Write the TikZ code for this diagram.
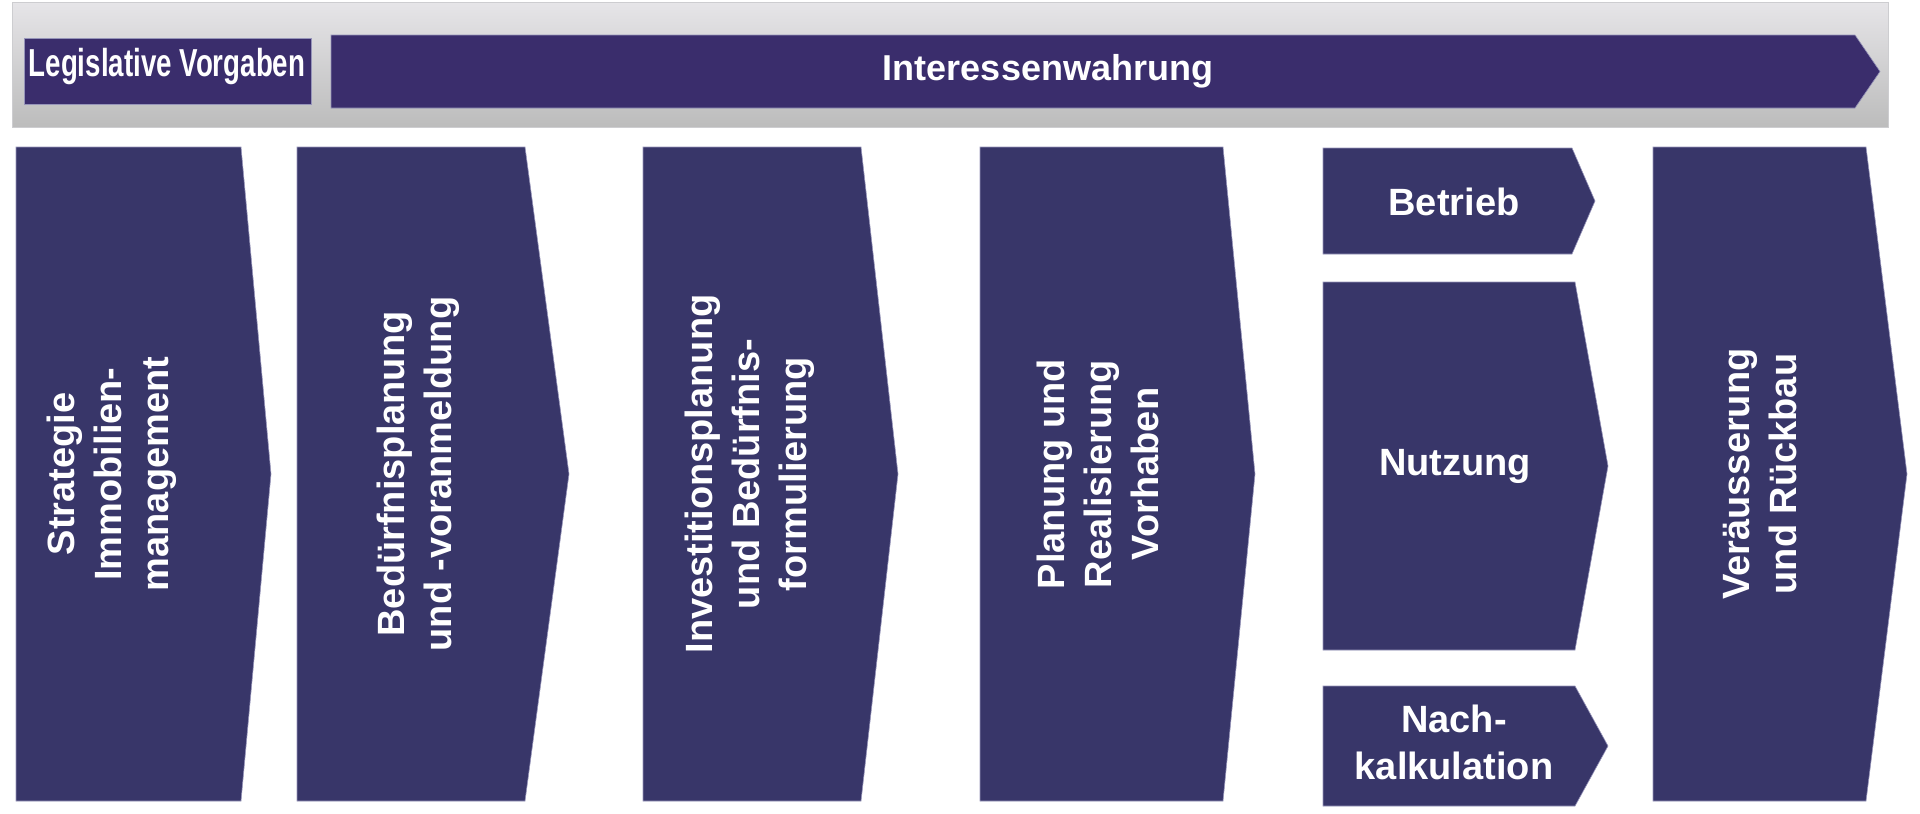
\documentclass[tikz,border=0pt]{standalone}
\usepackage{fontspec}
\setmainfont{Liberation Sans}
\definecolor{phasefill}{RGB}{56,54,105}
\definecolor{bandfill}{RGB}{58,45,108}
\definecolor{phaseline}{RGB}{150,148,185}
\definecolor{barTop}{RGB}{230,229,232}
\definecolor{barMid}{RGB}{221,220,223}
\definecolor{barBot}{RGB}{188,188,188}
\definecolor{barEdge}{RGB}{205,205,208}

\begin{document}
\begin{tikzpicture}[x=1pt,y=-1pt,
phase/.style  = {fill=phasefill, draw=phaseline, line width=0.6pt},
band/.style   = {fill=bandfill, draw=phaseline, line width=0.6pt},
hlabel/.style = {text=white, inner sep=0pt, align=center,
                 font=\fontsize{38}{47}\selectfont\bfseries},
vlabel/.style = {hlabel, rotate=90}
]
\useasboundingbox (0,0) rectangle (1920,814);
%
\shade[top color=barTop, middle color=barMid, bottom color=barBot, draw=barEdge] (12,2) rectangle (1888,127);
\draw[band] (24,38) rectangle (311,104);
\node[hlabel, font=\fontsize{39}{47}\selectfont\bfseries] (legis) at (167,66.5) {\scalebox{0.71}[1]{Legislative Vorgaben}};
\draw[band] (331,35) -- (1855,35) -- (1880,71.5) -- (1855,108) -- (331,108) -- cycle;
\node[hlabel, font=\fontsize{36}{44}\selectfont\bfseries] (interesse) at (1048,71) {Interessenwahrung};
%
\draw[phase] (16,147) -- (241,147) -- (271,474) -- (241,801) -- (16,801) -- cycle;
\draw[phase] (297,147) -- (525,147) -- (569,474) -- (525,801) -- (297,801) -- cycle;
\draw[phase] (643,147) -- (861,147) -- (898,474) -- (861,801) -- (643,801) -- cycle;
\draw[phase] (980,147) -- (1223,147) -- (1255,474) -- (1223,801) -- (980,801) -- cycle;
\draw[phase] (1323,148) -- (1572,148) -- (1595,201) -- (1572,254) -- (1323,254) -- cycle;
\draw[phase] (1323,282) -- (1575,282) -- (1608,466) -- (1575,650) -- (1323,650) -- cycle;
\draw[phase] (1323,686) -- (1575,686) -- (1608,746) -- (1575,806) -- (1323,806) -- cycle;
\draw[phase] (1653,147) -- (1866,147) -- (1907,474) -- (1866,801) -- (1653,801) -- cycle;
%
\node[vlabel] (strategie) at (112,474) {Strategie\\Immobilien-\\management};
\node[vlabel] (bedarf) at (418,474) {Bedürfnisplanung\\und -voranmeldung};
\node[vlabel] (invest) at (750,474) {Investitionsplanung\\und Bedürfnis-\\formulierung};
\node[vlabel] (vorhaben) at (1098,474) {Planung und\\Realisierung\\Vorhaben};
\node[hlabel] (betrieb) at (1454,202) {Betrieb};
\node[hlabel] (nutzung) at (1455,466) {Nutzung};
\node[hlabel] (nachkalk) at (1454,742) {Nach-\\kalkulation};
\node[vlabel] (rueckbau) at (1760,474) {Veräusserung\\und Rückbau};
%
\end{tikzpicture}
\end{document}
